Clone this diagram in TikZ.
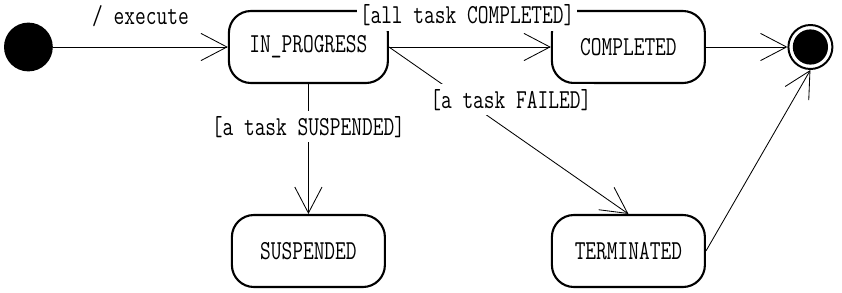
\documentclass[tikz,border=0pt]{standalone}
\usepackage{fontspec}
\setmonofont[FakeStretch=0.76]{Latin Modern Mono}
\usetikzlibrary{arrows.meta}

\begin{document}
\begin{tikzpicture}[
    every node/.style={font=\ttfamily\fontsize{19.5}{23}\selectfont},
    state/.style={draw, rounded corners=0.55cm, line width=1.5pt, minimum width=3.825cm, minimum height=1.8cm},
    guard/.style={fill=white, inner xsep=2pt, inner ysep=3.5pt},
    trans/.style={-{Straight Barb[length=0.65cm, width=0.68cm]}, line width=0.6pt}
  ]
  \useasboundingbox (0,0) rectangle (21.05,-7.3);

  % Start and end points
  \node[circle, fill=black, minimum size=1.22cm, inner sep=0pt] (init) at (0.71,-1.175) {};
  \node[circle, draw, line width=1.4pt, minimum size=1.1cm, inner sep=0pt,
        path picture={\fill (path picture bounding box.center) circle (0.44cm);}] (fin) at (20.26,-1.175) {};

  % States
  \node[state, minimum width=3.975cm] (ip) at (7.71,-1.175) {IN\_PROGRESS};
  \node[state] (comp) at (15.71,-1.175) {COMPLETED};
  \node[state] (susp) at (7.71,-6.275) {SUSPENDED};
  \node[state] (term) at (15.71,-6.275) {TERMINATED};

  % Transitions
  \draw[trans] (init) -- node[guard, midway, yshift=0.775cm] {/ execute} (ip);
  \draw[trans] (ip.east) -- node[guard, midway, xshift=-0.07cm, yshift=0.8cm] {[all task COMPLETED]} (comp.west);
  \draw[trans] (ip.east) -- node[guard, pos=0.3, xshift=1.25cm, yshift=-0.07cm] {[a task FAILED]} (term.north);
  \draw[trans] (ip) -- node[guard, pos=0.33] {[a task SUSPENDED]} (susp);
  \draw[trans] (comp) -- (fin);
  \draw[trans] (term.east) -- (fin.south);
\end{tikzpicture}
\end{document}
